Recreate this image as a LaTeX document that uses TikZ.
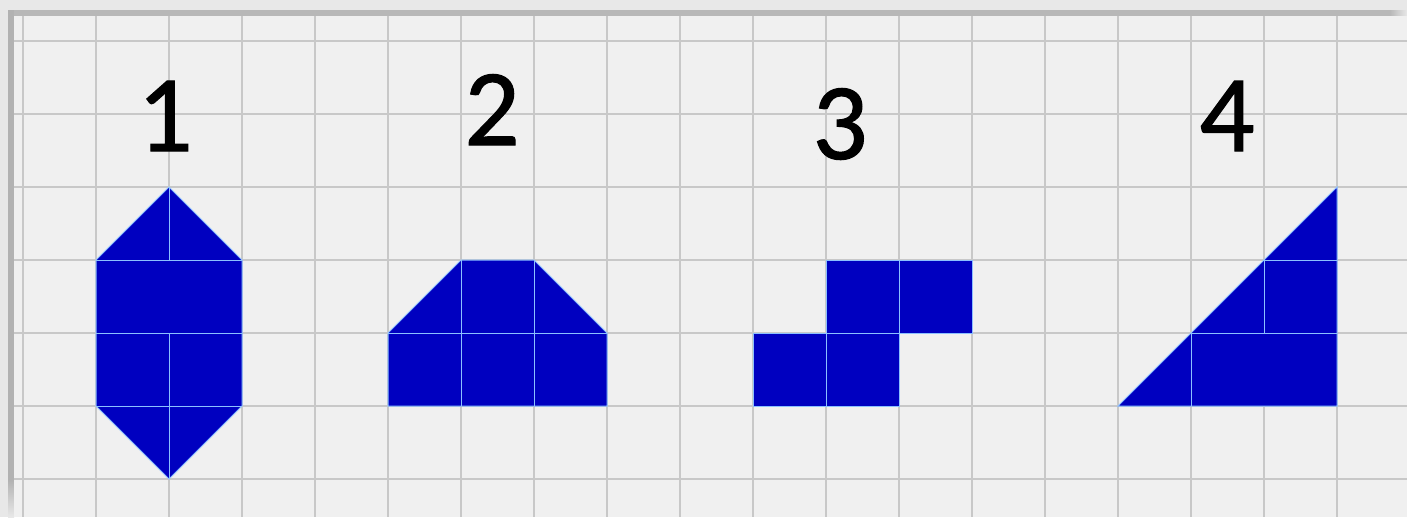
\documentclass[tikz,border=0pt]{standalone}
\usepackage{fontspec}
\setmainfont{Carlito}
\newfontfamily\digitfont[FakeBold=1.0]{Carlito}
\definecolor{outerbg}{HTML}{E8E8E8}
\definecolor{framedark}{HTML}{B8B8B8}
\definecolor{framedarkleft}{HTML}{B2B2B2}
\definecolor{paper}{HTML}{F0F0F0}
\definecolor{gridgray}{HTML}{C8C8C8}
\definecolor{pieceblue}{HTML}{0000C0}
\definecolor{edgeblue}{HTML}{8CC0FF}
\tikzset{
  gridline/.style={draw=gridgray, line width=2.6pt},
  bluepiece/.style={fill=pieceblue, draw=edgeblue, line width=1pt, line join=miter},
  innerline/.style={draw=edgeblue, line width=1pt},
  lbl/.style={anchor=base, inner sep=0pt, font=\digitfont\fontsize{109}{109}\selectfont, text=black}
}
\begin{document}
\begin{tikzpicture}[x=1pt,y=-1pt]
\useasboundingbox (0,0) rectangle (1407,517);
% outer frame
\fill[outerbg] (0,0) rectangle (1407,517);
\fill[framedark] (8,10) rectangle (1390,16);
\shade[left color=framedark, right color=outerbg] (1390,10) rectangle (1407,16);
\fill[framedarkleft] (8,10) rectangle (14,480);
\shade[top color=framedarkleft, bottom color=outerbg] (8,480) rectangle (14,517);
% paper
\fill[paper] (14,16) rectangle (1407,517);
% grid
\foreach \x in {23,96,...,1337} \draw[gridline] (\x,16) -- (\x,517);
\foreach \y in {41,114,...,479} \draw[gridline] (14,\y) -- (1407,\y);
% shape 1
\filldraw[bluepiece] (169,187) -- (242,260) -- (242,406) -- (169,479) -- (96,406) -- (96,260) -- cycle;
\draw[innerline] (169,187) -- (169,260) (96,260) -- (242,260) (96,333) -- (242,333)
  (169,333) -- (169,479) (96,406) -- (242,406);
% shape 2
\filldraw[bluepiece] (388,333) -- (461,260) -- (534,260) -- (607,333) -- (607,406) -- (388,406) -- cycle;
\draw[innerline] (461,260) -- (461,406) (534,260) -- (534,406) (388,333) -- (607,333);
% shape 3
\filldraw[bluepiece] (826,260) rectangle (899,333);
\filldraw[bluepiece] (899,260) rectangle (972,333);
\filldraw[bluepiece] (753,333) rectangle (826,406);
\filldraw[bluepiece] (826,333) rectangle (899,406);
% shape 4
\filldraw[bluepiece] (1118,406) -- (1337,187) -- (1337,406) -- cycle;
\draw[innerline] (1264,260) -- (1337,260) (1264,260) -- (1264,333) (1191,333) -- (1337,333)
  (1191,333) -- (1191,406);
% labels
\node[lbl] (n1) at (165,151) {1};
\node[lbl] (n2) at (492,145) {2};
\node[lbl] (n3) at (840,159) {3};
\node[lbl] (n4) at (1227,151) {4};
\end{tikzpicture}
\end{document}
